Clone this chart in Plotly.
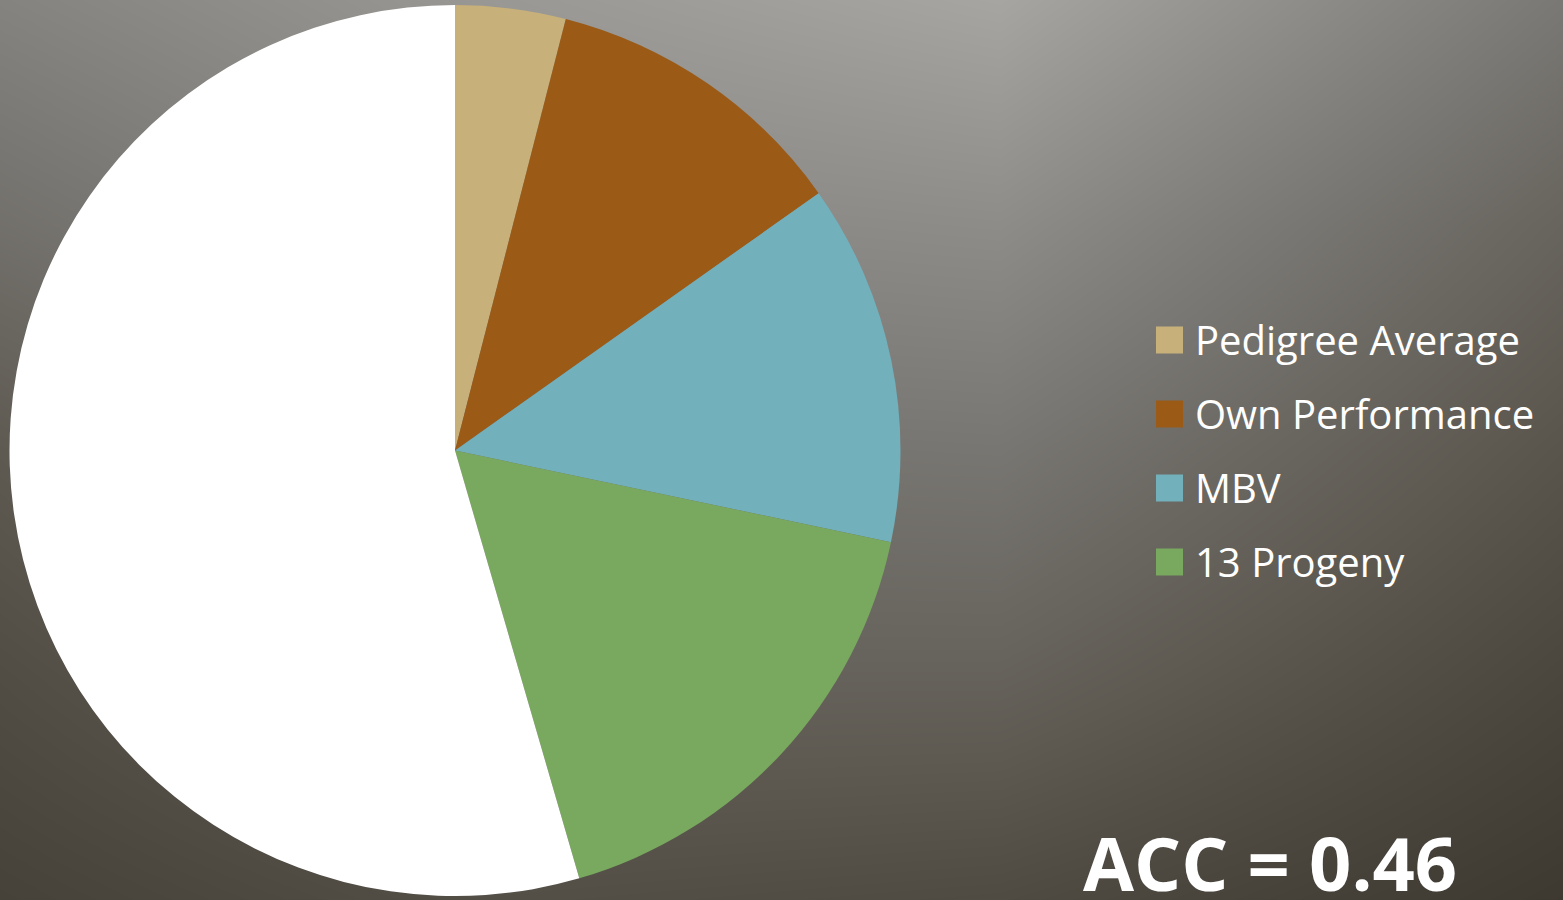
import plotly.graph_objects as go

# Share of accuracy contributed by each information source
labels = ["Pedigree Average", "Own Performance", "MBV", "13 Progeny", "Remaining"]
values = [0.040, 0.112, 0.131, 0.172, 0.545]
colors = ["#C8B07A", "#9B5A16", "#72B0BB", "#79A95E", "#FFFFFF"]
legend_labels = labels[:4]
acc_text = "ACC = 0.46"

# Background shading levels (brightness grid across the slide)
bg_x = [0, 500, 1000, 1563]
bg_y = [0, 225, 450, 675, 900]
bg_z = [
    [131, 152, 165, 120],
    [112, 135, 140, 100],
    [90, 115, 118, 85],
    [78, 98, 98, 72],
    [68, 80, 76, 60],
]

W, H = 1563, 900
zmin, zmax = 58, 165


def stop(v):
    return (v - zmin) / (zmax - zmin)


bg_scale = [
    [0.0, "#3B372F"],
    [stop(90), "#5E5A52"],
    [stop(118), "#787672"],
    [1.0, "#A6A5A1"],
]

fig = go.Figure()

fig.add_trace(go.Heatmap(
    x=bg_x, y=bg_y, z=bg_z,
    zmin=zmin, zmax=zmax,
    colorscale=bg_scale, zsmooth="best",
    showscale=False, hoverinfo="skip",
))

fig.add_trace(go.Pie(
    labels=labels, values=values,
    marker=dict(colors=colors, line=dict(width=0)),
    sort=False, direction="clockwise", rotation=0,
    textinfo="none", hoverinfo="skip", showlegend=False,
    domain=dict(x=[9.5 / W, 900.5 / W], y=[4 / H, 895 / H]),
))

# Legend: colour squares with labels
shapes = []
annotations = []
leg_top = 340
leg_step = 74
for i, (lab, col) in enumerate(zip(legend_labels, colors[:4])):
    cy = leg_top + i * leg_step
    shapes.append(dict(
        type="rect", xref="paper", yref="paper",
        x0=1156 / W, x1=1183 / W,
        y0=1 - (cy + 13.5) / H, y1=1 - (cy - 13.5) / H,
        fillcolor=col, line=dict(width=0), layer="above",
    ))
    annotations.append(dict(
        text=lab, xref="paper", yref="paper",
        x=1193 / W, y=1 - (cy - 1) / H,
        xanchor="left", yanchor="middle", showarrow=False,
        font=dict(family="Open Sans", size=40, color="white"),
    ))

annotations.append(dict(
    text=f"<b>{acc_text}</b>", xref="paper", yref="paper",
    x=1081 / W, y=1 - 915 / H,
    xanchor="left", yanchor="bottom", showarrow=False,
    font=dict(family="Open Sans", size=74, color="white"),
))

fig.update_layout(
    width=W, height=H,
    margin=dict(l=0, r=0, t=0, b=0),
    paper_bgcolor="#5E5A52", plot_bgcolor="#5E5A52",
    xaxis=dict(range=[0, W], visible=False, fixedrange=True, domain=[0, 1]),
    yaxis=dict(range=[H, 0], visible=False, fixedrange=True, domain=[0, 1]),
    shapes=shapes, annotations=annotations,
    showlegend=False,
)

fig.write_html("out.html", config={"displayModeBar": False})
